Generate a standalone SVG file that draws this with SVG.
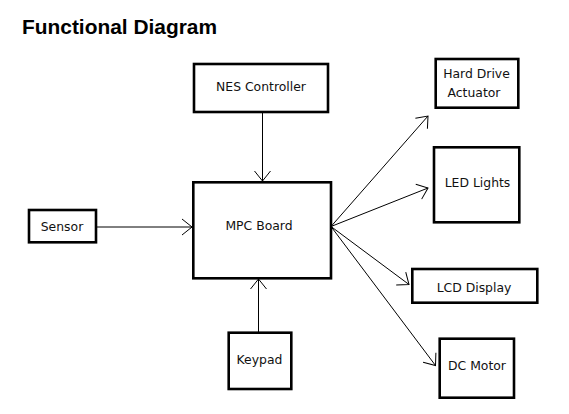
<svg xmlns="http://www.w3.org/2000/svg" width="569" height="414" viewBox="0 0 569 414">
<style>
.box{fill:#fff;stroke:#000;stroke-width:2.6}
.lbl{font-family:"DejaVu Sans",sans-serif;font-size:12.4px;fill:#111;text-anchor:middle;dominant-baseline:central}
.title{font-family:"Liberation Sans",Arial,sans-serif;font-weight:bold;font-size:20.9px;fill:#000}
.con{stroke:#000;stroke-width:1;fill:none;marker-end:url(#ah)}
</style>
<defs>
<marker id="ah" viewBox="-12 -9 13 18" refX="0" refY="0" markerWidth="13" markerHeight="18" markerUnits="userSpaceOnUse" orient="auto">
<path d="M-10,-8 L0,0 L-10,8" fill="none" stroke="#000" stroke-width="1"/>
</marker>
</defs>
<rect width="569" height="414" fill="#fff"/>
<text class="title" x="22" y="34">Functional Diagram</text>
<g id="connectors">
<line class="con" x1="262.5" y1="112" x2="262.5" y2="181"/>
<line class="con" x1="96" y1="227" x2="192" y2="227"/>
<line class="con" x1="258.5" y1="333" x2="258.5" y2="279"/>
<line class="con" x1="331" y1="226.5" x2="428" y2="116"/>
<line class="con" x1="331" y1="226.5" x2="428" y2="188"/>
<line class="con" x1="331" y1="226.5" x2="409" y2="284.5"/>
<line class="con" x1="331" y1="226.5" x2="435.5" y2="365.5"/>
</g>
<g id="nes"><rect class="box" x="194" y="64" width="134" height="48"/><text class="lbl" x="261" y="86">NES Controller</text></g>
<g id="mpc"><rect class="box" x="193.3" y="182.3" width="137.7" height="96"/><text class="lbl" x="259" y="225">MPC Board</text></g>
<g id="sensor"><rect class="box" x="29" y="210" width="67" height="32.3"/><text class="lbl" x="62" y="226.5">Sensor</text></g>
<g id="keypad"><rect class="box" x="228.7" y="332.7" width="62.6" height="56.3"/><text class="lbl" x="259.5" y="359">Keypad</text></g>
<g id="hda"><rect class="box" x="435.7" y="59" width="82.6" height="48.7"/><text class="lbl" x="476.5" y="73.5">Hard Drive</text><text class="lbl" x="474" y="92.5">Actuator</text></g>
<g id="led"><rect class="box" x="434" y="147.3" width="85.3" height="75"/><text class="lbl" x="477.5" y="182.5">LED Lights</text></g>
<g id="lcd"><rect class="box" x="412.3" y="269" width="125" height="33.7"/><text class="lbl" x="474" y="287.5">LCD Display</text></g>
<g id="dc"><rect class="box" x="439.7" y="338.7" width="74.3" height="59"/><text class="lbl" x="477" y="365.5">DC Motor</text></g>
</svg>
